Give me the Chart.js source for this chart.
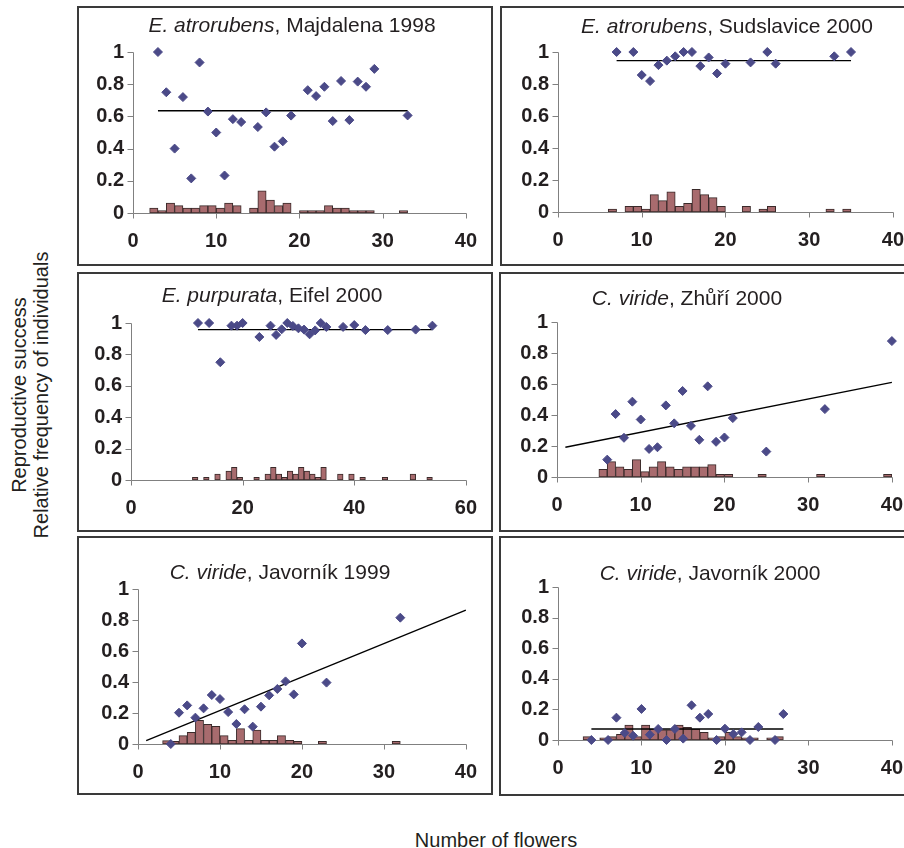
<!DOCTYPE html>
<html>
<head>
<meta charset="utf-8">
<script src="https://cdn.jsdelivr.net/npm/chart.js@4.4.1/dist/chart.umd.min.js"></script>
<style>
  html, body { margin: 0; padding: 0; background: #fff; overflow: hidden; }
  body { width: 904px; height: 848px; position: relative; font-family: Arial, "Liberation Sans", sans-serif; color: #231f20; }
  .box { position: absolute; border: 2px solid #3a3a3a; box-sizing: border-box; }
  canvas { position: absolute; }
  .title { position: absolute; width: 500px; text-align: center; font-size: 21px; line-height: 24px; white-space: nowrap; }
  .ylab { position: absolute; left: 30px; top: 395px; width: 0; height: 0; }
  .ylab div { position: absolute; transform: translate(-50%, -50%) rotate(-90deg); white-space: nowrap; font-size: 20px; line-height: 22px; text-align: center; }
  .xlab { position: absolute; left: 246px; top: 828px; width: 500px; text-align: center; font-size: 20px; line-height: 24px; }
</style>
</head>
<body>
<div class="ylab"><div>Reproductive success<br>Relative frequency of individuals</div></div>
<div class="xlab">Number of flowers</div>

<script>
// tick labels
const yTicks = [0, 0.2, 0.4, 0.6, 0.8, 1];
const yTickLabels = ['0', '0.2', '0.4', '0.6', '0.8', '1'];
const xTicks40 = [0, 10, 20, 30, 40];
const xTicks60 = [0, 20, 40, 60];

// E. atrorubens, Majdalena 1998
const majFlowers = [3, 4, 5, 6, 7, 8, 9, 10, 11, 12, 13, 15, 16, 17, 18, 19, 21, 22, 23, 24, 25, 26, 27, 28, 29, 33];
const majSuccess = [1.0, 0.75, 0.40, 0.72, 0.215, 0.935, 0.63, 0.50, 0.233, 0.583, 0.565, 0.534, 0.625, 0.412, 0.445, 0.605, 0.763, 0.726, 0.784, 0.571, 0.82, 0.577, 0.816, 0.784, 0.895, 0.606];
const majBins = [2.5, 3.5, 4.5, 5.5, 6.5, 7.5, 8.5, 9.5, 10.5, 11.5, 12.5, 14.5, 15.5, 16.5, 17.5, 18.5, 20.5, 21.5, 22.5, 23.5, 24.5, 25.5, 26.5, 27.5, 28.5, 32.5];
const majFreq = [0.03, 0.015, 0.062, 0.046, 0.03, 0.03, 0.046, 0.046, 0.03, 0.062, 0.046, 0.03, 0.137, 0.08, 0.046, 0.062, 0.015, 0.015, 0.015, 0.046, 0.03, 0.03, 0.015, 0.015, 0.015, 0.015];
const majTrendX = [3, 33];
const majTrendY = [0.635, 0.635];

// E. atrorubens, Sudslavice 2000
const sudFlowers = [7, 9, 10, 11, 12, 13, 14, 15, 16, 17, 18, 19, 20, 23, 25, 26, 33, 35];
const sudSuccess = [1.0, 1.0, 0.856, 0.818, 0.918, 0.946, 0.973, 1.0, 1.0, 0.912, 0.966, 0.866, 0.927, 0.935, 1.0, 0.927, 0.973, 1.0];
const sudBins = [6.5, 8.5, 9.5, 10.5, 11.5, 12.5, 13.5, 14.5, 15.5, 16.5, 17.5, 18.5, 19.5, 22.5, 24.5, 25.5, 32.5, 34.5];
const sudFreq = [0.018, 0.035, 0.035, 0.018, 0.109, 0.071, 0.126, 0.035, 0.054, 0.142, 0.109, 0.09, 0.035, 0.035, 0.018, 0.035, 0.018, 0.018];
const sudTrendX = [7, 35];
const sudTrendY = [0.946, 0.946];

// E. purpurata, Eifel 2000
const eifFlowers = [12, 14, 16, 18, 19, 20, 23, 25, 26, 27, 28, 29, 30, 31, 32, 33, 34, 35, 38, 40, 42, 46, 51, 54];
const eifSuccess = [1.0, 1.0, 0.75, 0.983, 0.983, 1.0, 0.911, 0.983, 0.924, 0.96, 1.0, 0.981, 0.966, 0.958, 0.928, 0.953, 1.0, 0.975, 0.975, 0.987, 0.955, 0.955, 0.958, 0.983];
const eifBins = [11.5, 13.5, 15.5, 17.5, 18.5, 19.5, 22.5, 24.5, 25.5, 26.5, 27.5, 28.5, 29.5, 30.5, 31.5, 32.5, 33.5, 34.5, 37.5, 39.5, 41.5, 45.5, 50.5, 53.5];
const eifFreq = [0.017, 0.017, 0.038, 0.057, 0.08, 0.017, 0.017, 0.038, 0.08, 0.038, 0.017, 0.057, 0.038, 0.08, 0.057, 0.038, 0.017, 0.08, 0.038, 0.038, 0.017, 0.017, 0.038, 0.017];
const eifTrendX = [12, 54];
const eifTrendY = [0.958, 0.958];

// C. viride, Zhůří 2000
const zhuFlowers = [6, 7, 8, 9, 10, 11, 12, 13, 14, 15, 16, 17, 18, 19, 20, 21, 25, 32, 40];
const zhuSuccess = [0.112, 0.406, 0.253, 0.486, 0.371, 0.181, 0.192, 0.462, 0.346, 0.555, 0.33, 0.24, 0.585, 0.227, 0.255, 0.38, 0.164, 0.438, 0.877];
const zhuBins = [5.5, 6.5, 7.5, 8.5, 9.5, 10.5, 11.5, 12.5, 13.5, 14.5, 15.5, 16.5, 17.5, 18.5, 19.5, 20.5, 24.5, 31.5, 39.5];
const zhuFreq = [0.05, 0.099, 0.065, 0.05, 0.112, 0.035, 0.065, 0.099, 0.065, 0.05, 0.065, 0.065, 0.065, 0.08, 0.017, 0.017, 0.017, 0.017, 0.017];
const zhuTrendX = [1, 40];
const zhuTrendY = [0.192, 0.611];

// C. viride, Javorník 1999
const jav99Flowers = [4, 5, 6, 7, 8, 9, 10, 11, 12, 13, 14, 15, 16, 17, 18, 19, 20, 23, 32];
const jav99Success = [0.0, 0.202, 0.249, 0.17, 0.23, 0.316, 0.29, 0.206, 0.129, 0.224, 0.112, 0.241, 0.314, 0.355, 0.404, 0.32, 0.649, 0.396, 0.815];
const jav99Bins = [3.5, 4.5, 5.5, 6.5, 7.5, 8.5, 9.5, 10.5, 11.5, 12.5, 13.5, 14.5, 15.5, 16.5, 17.5, 18.5, 19.5, 22.5, 31.5];
const jav99Freq = [0.022, 0.017, 0.054, 0.075, 0.153, 0.127, 0.114, 0.054, 0.024, 0.099, 0.024, 0.09, 0.024, 0.024, 0.054, 0.024, 0.017, 0.017, 0.017];
const jav99TrendX = [1, 40];
const jav99TrendY = [0.0215, 0.864];

// C. viride, Javorník 2000
const jav00Flowers = [4, 6, 7, 8, 9, 10, 11, 12, 13, 14, 15, 16, 17, 18, 19, 20, 21, 22, 23, 24, 26, 27];
const jav00Success = [0.0, 0.0, 0.146, 0.046, 0.028, 0.203, 0.035, 0.072, 0.0, 0.072, 0.009, 0.227, 0.146, 0.17, 0.0, 0.074, 0.039, 0.05, 0.0, 0.085, 0.0, 0.17];
const jav00Bins = [3.5, 5.5, 6.5, 7.5, 8.5, 9.5, 10.5, 11.5, 12.5, 13.5, 14.5, 15.5, 16.5, 17.5, 18.5, 19.5, 20.5, 21.5, 22.5, 23.5, 25.5, 26.5];
const jav00Freq = [0.022, 0.015, 0.022, 0.037, 0.098, 0.022, 0.098, 0.072, 0.066, 0.066, 0.098, 0.083, 0.072, 0.05, 0.015, 0.022, 0.05, 0.022, 0.015, 0.015, 0.015, 0.022];
const jav00TrendX = [4, 27];
const jav00TrendY = [0.072, 0.072];

const DOT = '#4b4a88';
const BAR = '#a86b6e';
const BAR_EDGE = '#3a2a2a';
const AXIS = '#808080';
const TXT = '#231f20';
const FONT = 'Arial, "Liberation Sans", sans-serif';

function pts(xs, ys) {
  return xs.map((x, i) => ({ x: x, y: ys[i] }));
}

// axis lines with outside tick marks, placed through the chart's own scales
const axesPlugin = {
  id: 'excelAxes',
  beforeDatasetsDraw(chart) {
    const ctx = chart.ctx;
    const xs = chart.scales.x, ys = chart.scales.y;
    const px = v => Math.round(xs.getPixelForValue(v)) + 0.5;
    const py = v => Math.round(ys.getPixelForValue(v)) + 0.5;
    const x0 = px(xs.min), y0 = py(0);
    ctx.save();
    ctx.strokeStyle = AXIS;
    ctx.lineWidth = 1;
    ctx.beginPath();
    ctx.moveTo(x0, py(ys.max));
    ctx.lineTo(x0, y0);
    ctx.lineTo(px(xs.max), y0);
    xs.ticks.forEach(t => { ctx.moveTo(px(t.value), y0); ctx.lineTo(px(t.value), y0 + 5); });
    ys.ticks.forEach(t => { ctx.moveTo(x0 - 6, py(t.value)); ctx.lineTo(x0, py(t.value)); });
    ctx.stroke();
    ctx.restore();
  }
};

function addTitle(italic, rest, cx, cy) {
  const d = document.createElement('div');
  d.className = 'title';
  d.style.left = (cx - 250) + 'px';
  d.style.top = (cy - 12) + 'px';
  d.innerHTML = '<i>' + italic + '</i>' + rest;
  document.body.appendChild(d);
}

function panel(box, area, xTicks, flowers, success, bins, freq, trendX, trendY) {
  const frame = document.createElement('div');
  frame.className = 'box';
  frame.style.left = box.l + 'px';
  frame.style.top = box.t + 'px';
  frame.style.width = box.w + 'px';
  frame.style.height = box.h + 'px';
  document.body.appendChild(frame);

  const cv = document.createElement('canvas');
  cv.width = box.w;
  cv.height = box.h;
  cv.style.left = box.l + 'px';
  cv.style.top = box.t + 'px';
  cv.style.width = box.w + 'px';
  cv.style.height = box.h + 'px';
  document.body.appendChild(cv);

  const tickFont = { family: FONT, size: 20, weight: 'bold' };

  new Chart(cv.getContext('2d'), {
    type: 'scatter',
    data: {
      datasets: [{
        type: 'bar',
        data: pts(bins, freq),
        backgroundColor: BAR,
        borderColor: BAR_EDGE,
        borderWidth: 1,
        borderSkipped: false,
        barPercentage: 1,
        categoryPercentage: 1,
        order: 3
      }, {
        type: 'line',
        data: pts(trendX, trendY),
        borderColor: '#000',
        borderWidth: 1.3,
        pointRadius: 0,
        fill: false,
        clip: false,
        order: 2
      }, {
        type: 'scatter',
        data: pts(flowers, success),
        pointStyle: 'rectRot',
        pointRadius: 4.5,
        backgroundColor: DOT,
        borderColor: DOT,
        borderWidth: 1,
        clip: false,
        order: 1
      }]
    },
    plugins: [axesPlugin],
    options: {
      responsive: false,
      devicePixelRatio: 1,
      animation: false,
      layout: {
        padding: { top: area.top - box.t, right: box.l + box.w - area.right, left: 0, bottom: 0 }
      },
      plugins: { legend: { display: false }, tooltip: { enabled: false }, title: { display: false } },
      scales: {
        x: {
          type: 'linear',
          offset: false,
          min: 0,
          max: xTicks[xTicks.length - 1],
          afterBuildTicks: s => { s.ticks = xTicks.map(v => ({ value: v })); },
          afterFit: s => { s.height = box.t + box.h - area.bottom; },
          grid: { display: false, drawTicks: false, offset: false },
          border: { display: false },
          ticks: { color: TXT, font: tickFont, padding: 16, maxRotation: 0, autoSkip: false }
        },
        y: {
          type: 'linear',
          offset: false,
          min: 0,
          max: 1,
          afterBuildTicks: s => { s.ticks = yTicks.map(v => ({ value: v })); },
          afterFit: s => { s.width = area.left - box.l; },
          grid: { display: false, drawTicks: false },
          border: { display: false },
          ticks: {
            color: TXT, font: tickFont, padding: 9,
            callback: v => yTickLabels[yTicks.indexOf(v)]
          }
        }
      }
    }
  });
}

panel({ l: 77, t: 6, w: 416, h: 260 }, { left: 133, right: 471, top: 52, bottom: 213 }, xTicks40,
  majFlowers, majSuccess, majBins, majFreq, majTrendX, majTrendY);
addTitle('E. atrorubens', ', Majdalena 1998', 292, 25);

panel({ l: 500, t: 6, w: 420, h: 260 }, { left: 558, right: 895, top: 52, bottom: 212 }, xTicks40,
  sudFlowers, sudSuccess, sudBins, sudFreq, sudTrendX, sudTrendY);
addTitle('E. atrorubens', ', Sudslavice 2000', 727, 26);

panel({ l: 77, t: 272, w: 416, h: 260 }, { left: 131, right: 470, top: 323, bottom: 480 }, xTicks60,
  eifFlowers, eifSuccess, eifBins, eifFreq, eifTrendX, eifTrendY);
addTitle('E. purpurata', ', Eifel 2000', 272, 295);

panel({ l: 499, t: 272, w: 420, h: 260 }, { left: 557, right: 894, top: 322, bottom: 477 }, xTicks40,
  zhuFlowers, zhuSuccess, zhuBins, zhuFreq, zhuTrendX, zhuTrendY);
addTitle('C. viride', ', Zhůří 2000', 687, 298);

panel({ l: 77, t: 536, w: 416, h: 259 }, { left: 138, right: 475, top: 589, bottom: 744 }, xTicks40,
  jav99Flowers, jav99Success, jav99Bins, jav99Freq, jav99TrendX, jav99TrendY);
addTitle('C. viride', ', Javorník 1999', 280, 572);

panel({ l: 499, t: 536, w: 420, h: 260 }, { left: 558, right: 894, top: 587, bottom: 740 }, xTicks40,
  jav00Flowers, jav00Success, jav00Bins, jav00Freq, jav00TrendX, jav00TrendY);
addTitle('C. viride', ', Javorník 2000', 710, 573);
</script>
</body>
</html>
